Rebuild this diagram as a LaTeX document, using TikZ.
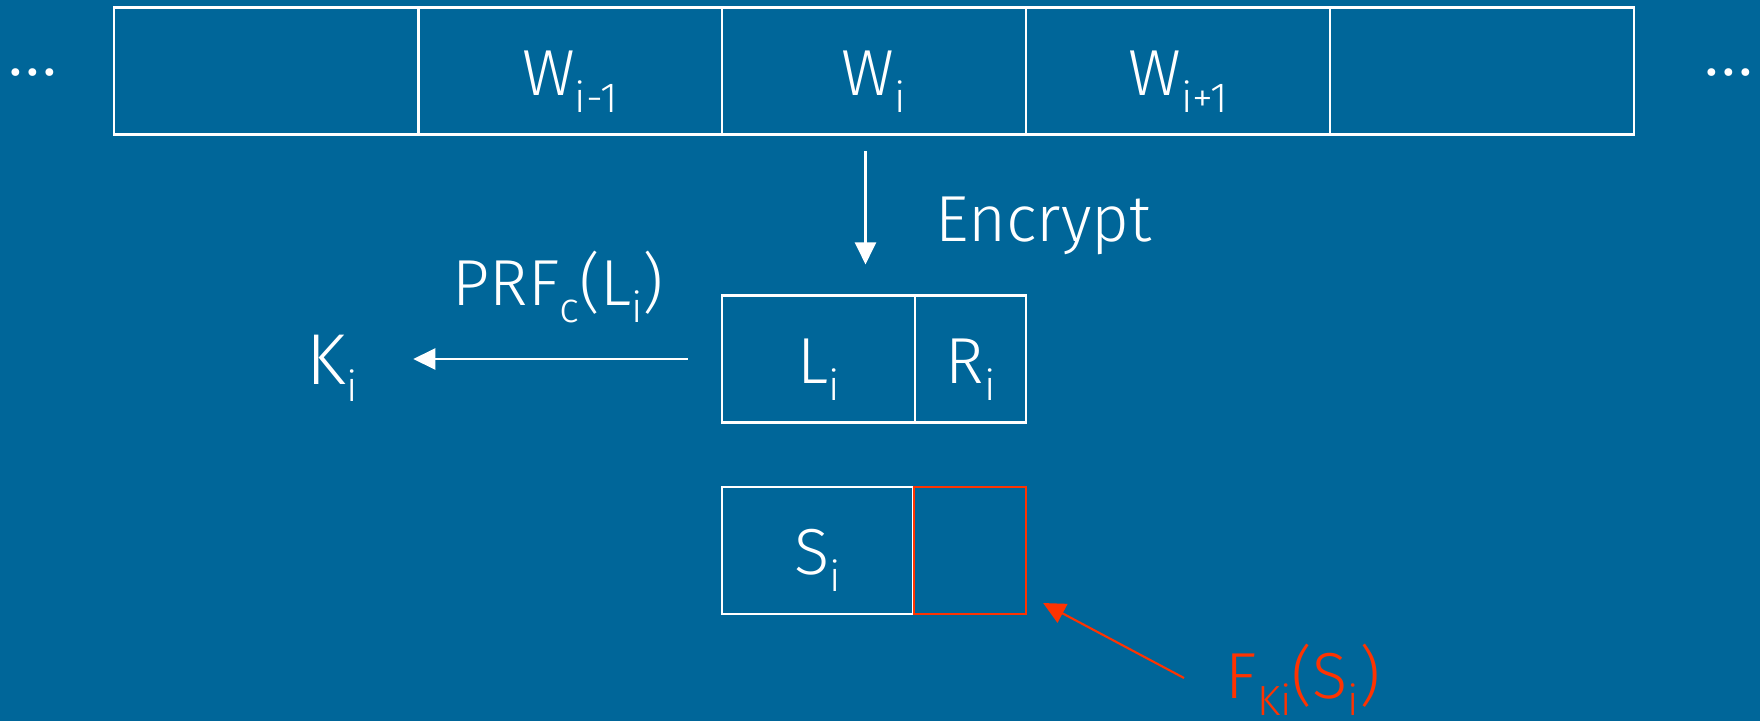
\documentclass[tikz,border=0pt]{standalone}
\usepackage{fontspec}
\setmainfont{Fira Sans Light}
\usepackage{tikz}
\usetikzlibrary{arrows.meta}
\usetikzlibrary{positioning}
\definecolor{bg}{RGB}{0,102,153}
\definecolor{hot}{RGB}{255,51,0}
\newcommand{\subidx}[1]{\raisebox{-0.17cm}{\fontsize{12pt}{12pt}\selectfont #1}}
\tikzstyle{cell}=[rectangle, draw=white, line width=0.6pt, outer sep=0pt, inner sep=0pt, minimum height=1.27cm, text height=0.48cm, text depth=0cm, text=white, font=\fontsize{18.5pt}{20pt}\selectfont]
\tikzstyle{lbl}=[inner sep=0pt, text=white, font=\fontsize{18.5pt}{20pt}\selectfont]
\tikzstyle{arr}=[-{Triangle[width=0.21cm, length=0.22cm]}, draw=white, line width=0.6pt]
\tikzstyle{hotarr}=[arr, draw=hot]

\begin{document}
\begin{tikzpicture}[x=0.01cm, y=-0.01cm]
	\useasboundingbox (0,0) rectangle (1760,721);
	\fill[bg] (0,0) rectangle (1760,721);
	% row of words
	\foreach \n/\x/\t in {0/266.5/{}, 1/570/{W\subidx{i-1}}, 2/874/{W\subidx{i}}, 3/1178/{W\subidx{i+1}}, 4/1482/{}}
		\node[cell, minimum width=3.04cm] (c\n) at (\x,71) {\t};
	\node[lbl, anchor=base, font=\fontsize{23pt}{24pt}\selectfont] (dl) at (33,75) {...};
	\node[lbl, anchor=base, font=\fontsize{23pt}{24pt}\selectfont] (dr) at (1729,75) {...};
	% encrypted word and its check block
	\node[cell, minimum width=1.93cm] (l) at (818.5,359) {L\subidx{i}};
	\node[cell, minimum width=1.11cm, right=0pt of l] (r) {R\subidx{i}};
	\node[cell, minimum width=1.91cm] (s) at (817.5,550.5) {S\subidx{i}};
	\node[cell, draw=hot, minimum width=1.12cm, right=0.01cm of s] (fk) {};
	\node[lbl, anchor=base west, font=\fontsize{20.5pt}{22pt}\selectfont] (k) at (306,384) {K\subidx{i}};
	\node[lbl, anchor=base west] (enc) at (935,241) {Encrypt};
	\node[lbl, anchor=base west] (prf) at (452,305) {PRF\subidx{c}(L\subidx{i})};
	\node[lbl, anchor=base west, text=hot] (f) at (1225,698) {F\subidx{Ki}(S\subidx{i})};
	\coordinate (ftail) at (1184,678);
	\draw[arr, shorten <=0.165cm, shorten >=0.31cm] ([xshift=-0.085cm]c2.south) -- ([xshift=-0.085cm]c2.south |- l.north);
	\draw[arr, shorten <=0.34cm, shorten >=0.55cm] (l.west) -- (l.west -| k.east);
	\draw[hotarr] (ftail) -- ([xshift=0.17cm, yshift=0.11cm]fk.south east);
\end{tikzpicture}
\end{document}
